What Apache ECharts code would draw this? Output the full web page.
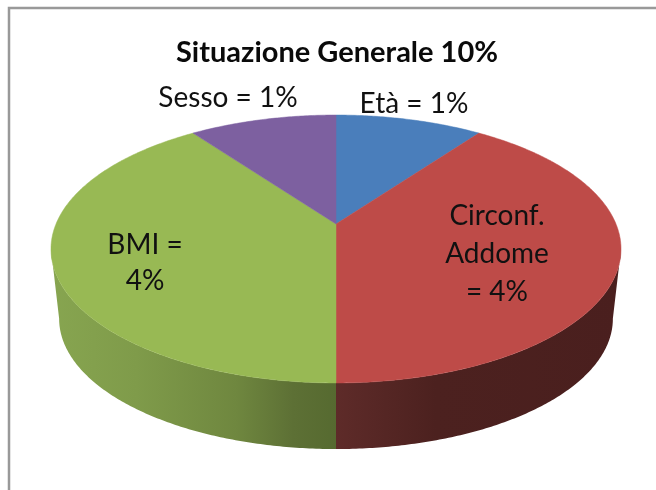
<!DOCTYPE html>
<html lang="it">

<head>
  <meta charset="UTF-8">
  <title>Situazione Generale 10%</title>
  <script src="https://cdn.jsdelivr.net/npm/echarts@6/dist/echarts.min.js"></script>
</head>

<body style="margin: 0;padding: 0;background: #fff;">
  <div id="main" style="width: 656px;height: 490px;"></div>
  <script>
    var titleText = 'Situazione Generale 10%';
    var categories = ['Età', 'Circonf. Addome', 'BMI', 'Sesso'];
    var values = [1, 4, 4, 1];
    var labelLines = [['Età = 1%'], ['Circonf.', 'Addome', '= 4%'], ['BMI =', '4%'], ['Sesso = 1%']];

    // styling and layout, kept apart from the data
    var topColors = ['#4a7ebb', '#be4b48', '#98b954', '#7d60a0'];
    var wallStops = [
      null,
      [[0, '#5e2b29'], [0.35, '#4c211f'], [1, '#4a1f1e']],
      [[0, '#87a550'], [0.3, '#7f9b4a'], [0.65, '#6f873f'], [0.85, '#5d7035'], [1, '#566a30']],
      null
    ];
    var labelPos = [[414, 104], [497, 216], [145, 245], [228, 98]];
    var lineGap = [0, 38, 36, 0];

    // perspective disc: top face and the (further away) bottom face
    var persp = 0.1866;
    var topFace = { cx: 336, cy: 224, a: 280, b: 129.3 };
    var bottomFace = { cx: 336, cy: 294.5, a: 272, b: 125.7 };
    var tangent = Math.acos(-persp);

    function project(face, t) {
      var d = 1 + persp * Math.cos(t);
      return [face.cx + face.a * Math.sin(t) / d, face.cy - face.b * Math.cos(t) / d];
    }

    function arc(face, from, to) {
      var pts = [];
      var n = Math.max(2, Math.ceil(Math.abs(to - from) / 0.01));
      for (var i = 0; i <= n; i++) {
        pts.push(project(face, from + (to - from) * i / n));
      }
      return pts;
    }

    var total = values.reduce(function (s, v) { return s + v; }, 0);
    var sum = 0;
    var sliceData = categories.map(function (name, i) {
      var start = sum / total * Math.PI * 2;
      sum += values[i];
      return { name: name, value: [values[i], start, sum / total * Math.PI * 2] };
    });

    function renderWall(params, api) {
      var stops = wallStops[params.dataIndex];
      var from = Math.max(api.value(1), tangent);
      var to = Math.min(api.value(2), Math.PI * 2 - tangent);
      if (!stops || from >= to) {
        return;
      }
      var pts = arc(topFace, from, to).concat(arc(bottomFace, to, from));
      var xs = pts.map(function (p) { return p[0]; });
      var x0 = Math.min.apply(null, xs);
      var x1 = Math.max.apply(null, xs);
      var colorStops = stops.map(function (s) { return { offset: s[0], color: s[1] }; });
      return {
        type: 'polygon',
        shape: { points: pts },
        style: { fill: new echarts.graphic.LinearGradient(x0, 0, x1, 0, colorStops, true) }
      };
    }

    function renderTop(params, api) {
      var i = params.dataIndex;
      var pts = [[topFace.cx, topFace.cy]].concat(arc(topFace, api.value(1), api.value(2)));
      return {
        type: 'polygon',
        shape: { points: pts },
        style: { fill: topColors[i], stroke: topColors[i], lineWidth: 0.5 }
      };
    }

    function renderLabel(params) {
      var i = params.dataIndex;
      return {
        type: 'group',
        children: labelLines[i].map(function (line, k) {
          return {
            type: 'text',
            x: labelPos[i][0],
            y: labelPos[i][1] + k * lineGap[i],
            style: {
              text: line,
              fill: '#111',
              font: '28px Lato',
              align: 'center',
              verticalAlign: 'middle'
            }
          };
        })
      };
    }

    var myChart = echarts.init(document.getElementById('main'));
    var option = {
      animation: false,
      backgroundColor: '#fff',
      title: {
        text: titleText,
        left: 332,
        top: 33,
        textAlign: 'center',
        textStyle: { fontFamily: 'Lato', fontSize: 29, fontWeight: 'bold', color: '#0a0a0a' }
      },
      graphic: [{
        type: 'rect',
        shape: { x: 9, y: 8, width: 700, height: 540 },
        style: { fill: 'none', stroke: '#999', lineWidth: 2.5 },
        silent: true
      }],
      series: [
        { type: 'custom', coordinateSystem: 'none', z: 2, silent: true, data: sliceData, renderItem: renderWall },
        { type: 'custom', coordinateSystem: 'none', z: 3, silent: true, data: sliceData, renderItem: renderTop },
        { type: 'custom', coordinateSystem: 'none', z: 4, silent: true, data: sliceData, renderItem: renderLabel }
      ]
    };

    option && myChart.setOption(option);
  </script>
</body>

</html>
